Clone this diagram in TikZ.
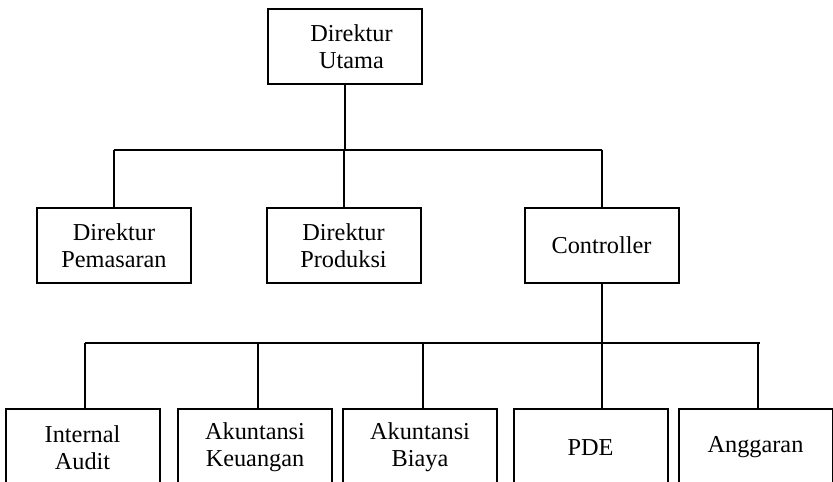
\documentclass[tikz,border=0pt]{standalone}
\usepackage{fontspec}
\setmainfont{Liberation Serif}
\tikzset{
  unit/.style={draw, line width=1pt, minimum width=77pt, minimum height=37.5pt,
    inner sep=0pt, align=center, font=\fontsize{12.15}{13.4}\selectfont},
  link/.style={line width=1pt}
}
\begin{document}
\begin{tikzpicture}[x=0.5pt,y=0.5pt]
    \useasboundingbox (0,0) rectangle (833,481);
    \clip (0,0) rectangle (833,481);
    % top
    \node[unit] (utama) at (344.5,434.5) {\hspace*{7pt}Direktur\\\hspace*{7pt}Utama};
    % second level
    \node[unit] (pemasaran) at (114,235.5) {Direktur\\Pemasaran};
    \node[unit] (produksi) at (343.5,235.5) {Direktur\\Produksi};
    \node[unit] (controller) at (601.5,235.5) {Controller};
    % third level
    \node[unit, minimum height=38.5pt] (audit) at (82.5,33.5) {Internal\\Audit};
    \node[unit, minimum height=38.5pt] (keuangan) at (255,33.5) {Akuntansi\\Keuangan};
    \node[unit, minimum height=38.5pt] (biaya) at (420,33.5) {Akuntansi\\Biaya};
    \node[unit, minimum height=38.5pt] (pde) at (590.5,33.5) {PDE};
    \node[unit, minimum height=38.5pt] (anggaran) at (755.5,33.5) {Anggaran};
    \coordinate (bus1) at (0,331);
    \coordinate (bus2) at (0,138);
    % connectors
    \draw[link] (utama.south) -- (utama.south |- bus1);
    \draw[link] (pemasaran.north |- bus1) -- (controller.north |- bus1);
    \foreach \n in {pemasaran,produksi,controller}
        \draw[link] (\n.north) -- (\n.north |- bus1);
    \draw[link] ([xshift=1pt]audit.north |- bus2) -- ([xshift=2pt]anggaran.north |- bus2);
    \foreach \n in {audit,keuangan,biaya,anggaran}
        \draw[link] ([xshift=1.25pt]\n.north) -- ([xshift=1.25pt]\n.north |- bus2);
    \draw[link] (controller.south) -- (controller.south |- pde.north);
\end{tikzpicture}
\end{document}
